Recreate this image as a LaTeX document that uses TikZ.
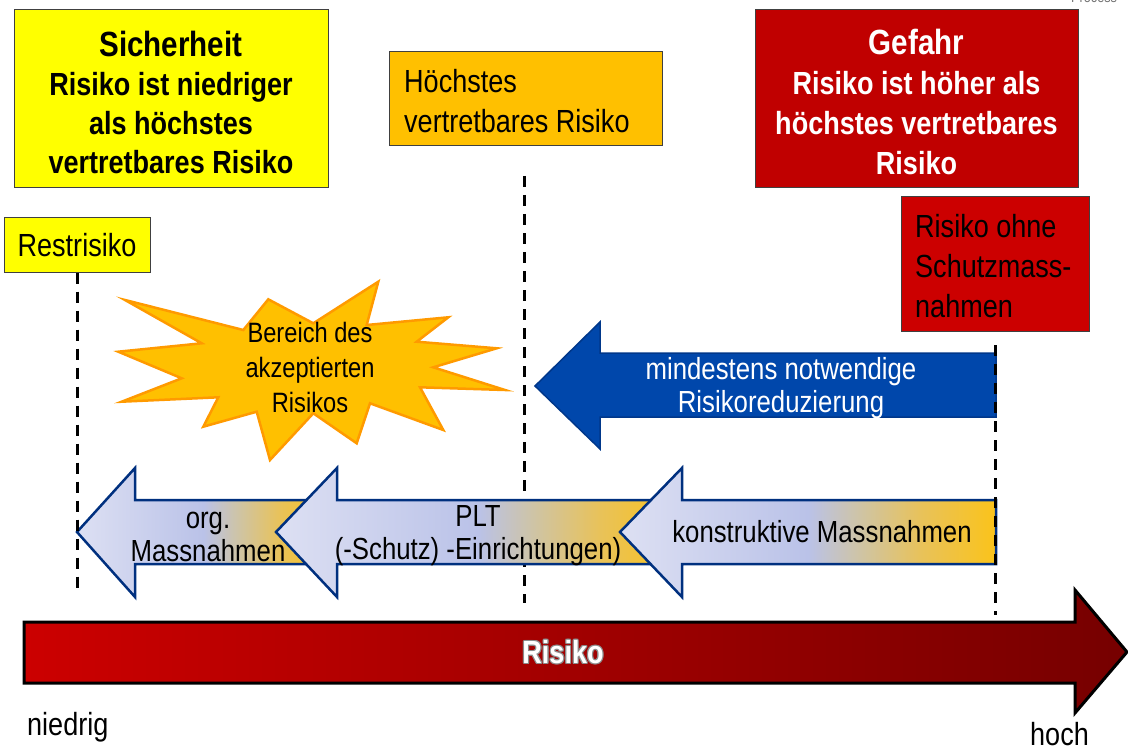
\documentclass[tikz,border=0pt]{standalone}
\usepackage{fontspec}
\setmainfont{Liberation Sans}[FakeStretch=0.845]
\definecolor{sichyellow}{HTML}{FFFF00}
\definecolor{hoechst}{HTML}{FFC000}
\definecolor{gefahrred}{HTML}{C00000}
\definecolor{ohnered}{HTML}{CC0000}
\definecolor{burstfill}{HTML}{FFC000}
\definecolor{burstline}{HTML}{FF9A00}
\definecolor{minblue}{HTML}{0047AB}
\definecolor{minblueline}{HTML}{00378A}
\definecolor{lowline}{HTML}{00307F}
\definecolor{lavA}{HTML}{DDE0F3}
\definecolor{lavB}{HTML}{BAC2E8}
\definecolor{beigeC}{HTML}{CFC4A4}
\definecolor{ochreD}{HTML}{E8C25A}
\definecolor{orngE}{HTML}{FBC31A}
\definecolor{riskL}{HTML}{CC0000}
\definecolor{riskR}{HTML}{760000}
\pgfdeclarehorizontalshading{lowgrad}{100bp}{color(0bp)=(lavA); color(25bp)=(lavA); color(50bp)=(lavB); color(57bp)=(beigeC); color(65bp)=(ochreD); color(75bp)=(orngE); color(100bp)=(orngE)}
\tikzset{
  box/.style={draw=black!75, line width=1pt, inner sep=0pt},
  txt/.style={inner sep=0pt, align=center},
  maintext/.style={font=\fontsize{32}{40}\selectfont},
  boldtext/.style={font=\bfseries\fontsize{32}{39}\selectfont},
  arrowtext/.style={font=\fontsize{30.5}{33}\selectfont, align=center, inner sep=0pt},
  dashline/.style={line width=3pt, dash pattern=on 11pt off 8pt},
  lowarrow/.style={shading=lowgrad, draw=lowline, line width=2.5pt, line join=miter},
}
\newcommand{\titlesize}{\fontsize{35}{40}\selectfont}
\begin{document}
\begin{tikzpicture}[x=1pt,y=-1pt]
\useasboundingbox (0,0) rectangle (1128,749);
\clip (0,0) rectangle (1128,749);

% cut-off header text
\node[anchor=base west, text=black!55, font=\fontsize{15}{15}\selectfont, inner sep=0pt] (proc) at (1071,3) {Process};

% top boxes
\node[box, fill=sichyellow, minimum width=314pt, minimum height=178pt] (sichbox) at (171,99) {};
\node[txt, boldtext] (sich) at (171,102) {{\titlesize Sicherheit}\\Risiko ist niedriger\\als höchstes\\vertretbares Risiko};
\node[box, fill=hoechst, minimum width=273pt, minimum height=94pt] (hoebox) at (525.5,99) {};
\node[txt, maintext, align=left, anchor=west] (hoe) at (404,101) {Höchstes\\vertretbares Risiko};
\node[box, fill=gefahrred, minimum width=323pt, minimum height=178pt] (gefbox) at (916.5,99) {};
\node[txt, boldtext, font=\bfseries\fontsize{32}{40}\selectfont, text=white] (gef) at (916.5,102) {{\titlesize Gefahr}\\Risiko ist höher als\\höchstes vertretbares\\Risiko};
\node[box, maintext, fill=sichyellow, minimum width=146pt, minimum height=54pt] (rest) at (77,245) {Restrisiko};
\node[box, fill=ohnered, minimum width=188pt, minimum height=134pt] (ohnebox) at (995,264) {};
\node[txt, maintext, align=left, anchor=west] (ohne) at (915,266) {Risiko ohne\\Schutzmass-\\nahmen};

% starburst
\draw[fill=burstfill, draw=burstline, line width=2.5pt, line join=miter]
 (125,300) -- (243.3,330) -- (268.3,299.3) -- (313.3,323.3) -- (378.3,281.7) -- (366.7,325)
 -- (448.3,317.3) -- (416.7,341.7) -- (496.7,348.3) -- (433.3,367.3) -- (505,390) -- (420,387.3)
 -- (443.3,430) -- (370,403.3) -- (356.7,443.3) -- (313.3,413.3) -- (270,460) -- (256.7,411.7)
 -- (203.3,426.7) -- (218.3,397.3) -- (121.7,401.7) -- (181.7,378.3) -- (118.3,351.7) -- (201.7,343.3) -- cycle;
\node[txt, font=\fontsize{28}{35}\selectfont] (burst) at (310,367) {Bereich des\\akzeptierten\\Risikos};

% middle dashed line (behind arrows)
\coordinate (d2t) at (524,176);
\coordinate (d2b) at (524,603);
\draw[dashline] (d2t) -- (d2b);

% blue arrow
\draw[fill=minblue, draw=minblueline, line width=1.5pt, line join=miter]
 (996,353) -- (600,353) -- (600,322) -- (535,386) -- (600,449) -- (600,417) -- (996,417) -- cycle;
\node[arrowtext, text=white, font=\fontsize{30.5}{33}\selectfont] (mind) at (781,388) {mindestens notwendige\\Risikoreduzierung};

% lower arrows
\draw[lowarrow] (330,500) -- (135,500) -- (135,468) -- (77,532) -- (135,597) -- (135,564) -- (330,564) -- cycle;
\node[arrowtext] (org) at (208,537) {org.\\Massnahmen};
\draw[lowarrow] (680,500) -- (337,500) -- (337,468) -- (276,532) -- (337,597) -- (337,564) -- (680,564) -- cycle;
\node[arrowtext] (plt) at (478,536) {PLT\\(-Schutz) -Einrichtungen)};
\draw[lowarrow] (996,500) -- (682,500) -- (682,468) -- (620,532) -- (682,597) -- (682,564) -- (996,564) -- cycle;
\node[arrowtext] (konst) at (822,532) {konstruktive Massnahmen};

% dashed lines on top
\coordinate (d1b) at (77,595);
\draw[dashline] (rest.south) -- (d1b);
\coordinate (d3t) at (995,345);
\coordinate (d3b) at (995,615);
\draw[dashline] (d3t) -- (d3b);

% risk axis arrow
\draw[left color=riskL, right color=riskR, draw=black, line width=3pt, line join=miter]
 (24,622) -- (1075,622) -- (1075,590) -- (1127,652) -- (1075,713) -- (1075,683) -- (24,683) -- cycle;
\foreach \dx/\dy in {-1.2/0,1.2/0,0/-1.2,0/1.2,-0.9/-0.9,0.9/0.9,-0.9/0.9,0.9/-0.9}
  \node[text=black!45, font=\bfseries\fontsize{32}{32}\selectfont, inner sep=0pt] at (563+\dx,652+\dy) {Risiko};
\node[text=white, font=\bfseries\fontsize{32}{32}\selectfont, inner sep=0pt] (risk) at (563,652) {Risiko};

\node[anchor=base west, maintext, inner sep=0pt] (low) at (27,735) {niedrig};
\node[anchor=base west, maintext, inner sep=0pt] (high) at (1030,745) {hoch};
\end{tikzpicture}
\end{document}
